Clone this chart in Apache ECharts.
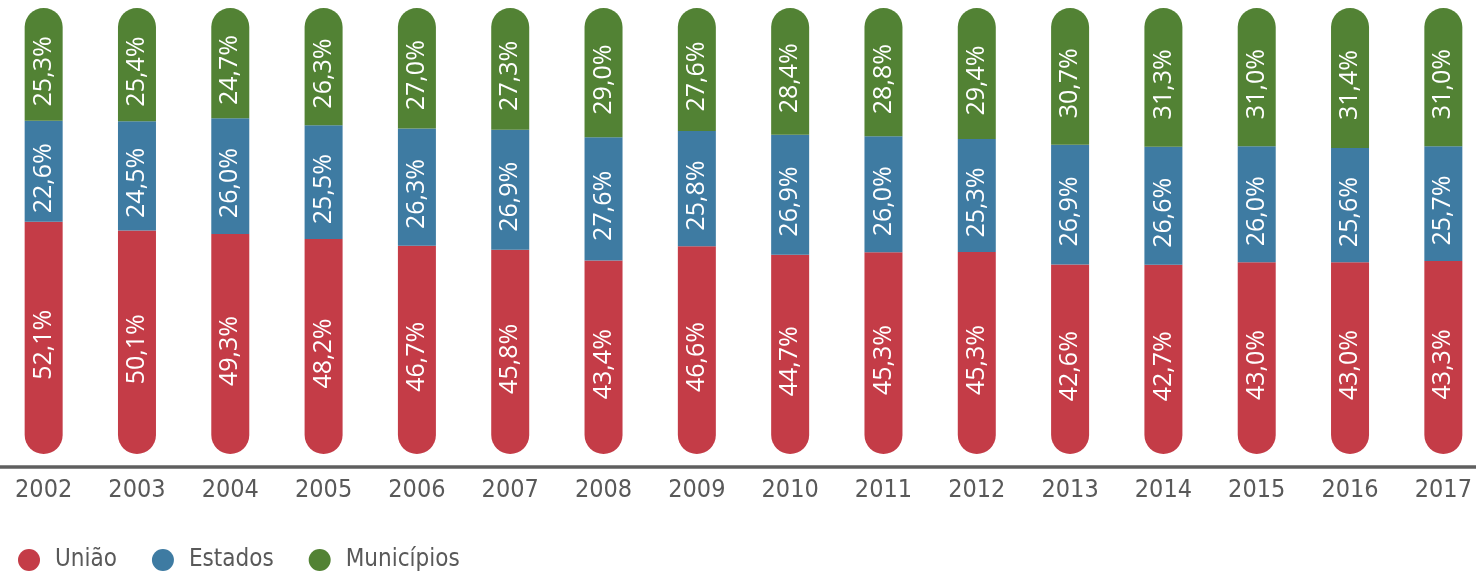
<!DOCTYPE html>
<html>
<head>
<meta charset="utf-8">
<script src="https://cdn.jsdelivr.net/npm/echarts@6/dist/echarts.min.js"></script>
<style>
html,body{margin:0;padding:0;background:#fff;overflow:hidden;width:1476px;height:577px;position:relative;}
#chart{position:absolute;left:-3px;top:0;width:1493px;height:577px;}
</style>
</head>
<body>
<div id="chart"></div>
<script>
const years = ['2002','2003','2004','2005','2006','2007','2008','2009','2010','2011','2012','2013','2014','2015','2016','2017'];
const uniao = [52.1, 50.1, 49.3, 48.2, 46.7, 45.8, 43.4, 46.6, 44.7, 45.3, 45.3, 42.6, 42.7, 43.0, 43.0, 43.3];
const estados = [22.6, 24.5, 26.0, 25.5, 26.3, 26.9, 27.6, 25.8, 26.9, 26.0, 25.3, 26.9, 26.6, 26.0, 25.6, 25.7];
const municipios = [25.3, 25.4, 24.7, 26.3, 27.0, 27.3, 29.0, 27.6, 28.4, 28.8, 29.4, 30.7, 31.3, 31.0, 31.4, 31.0];

const totals = years.map((_, i) => uniao[i] + estados[i] + municipios[i]);
function items(arr) {
  // 100% stacked: drawn as share of each year's total, labelled with the raw value
  return arr.map((v, i) => ({ value: v / totals[i] * 100, raw: v }));
}
const fmt = p => p.data.raw.toFixed(1).replace('.', ',') + '%';

const labelCfg = {
  show: true,
  position: 'inside',
  rotate: 90,
  offset: [-7, 0],
  color: '#ffffff',
  fontFamily: 'Open Sans',
  fontSize: 25,
  formatter: fmt
};

const chart = echarts.init(document.getElementById('chart'));
chart.setOption({
  animation: false,
  grid: { left: 0, right: 0, top: 8, bottom: 123, containLabel: false },
  legend: {
    left: 21, top: 548,
    padding: 0,
    icon: 'circle',
    itemWidth: 22, itemHeight: 22,
    itemGap: 35,
    textStyle: { color: '#595959', fontFamily: 'DejaVu Sans Condensed', fontSize: 24, padding: [0, 0, 0, 10] },
    data: ['União', 'Estados', 'Municípios']
  },
  xAxis: {
    type: 'category',
    data: years,
    offset: 13,
    axisLine: { show: true, onZero: false, lineStyle: { color: '#5f5f5f', width: 3.5 } },
    axisTick: { show: false },
    axisLabel: { color: '#595959', fontFamily: 'DejaVu Sans Condensed', fontSize: 25, margin: 11 }
  },
  yAxis: { type: 'value', min: 0, max: 100, show: false, splitLine: { show: false } },
  series: [
    { name: 'União', type: 'bar', stack: 't', barWidth: 38, data: items(uniao),
      itemStyle: { color: '#C43C47', borderRadius: [0, 0, 19, 19] }, label: labelCfg },
    { name: 'Estados', type: 'bar', stack: 't', barWidth: 38, data: items(estados),
      itemStyle: { color: '#3E7BA2' }, label: labelCfg },
    { name: 'Municípios', type: 'bar', stack: 't', barWidth: 38, data: items(municipios),
      itemStyle: { color: '#528234', borderRadius: [19, 19, 0, 0] }, label: labelCfg }
  ]
});
</script>
</body>
</html>
